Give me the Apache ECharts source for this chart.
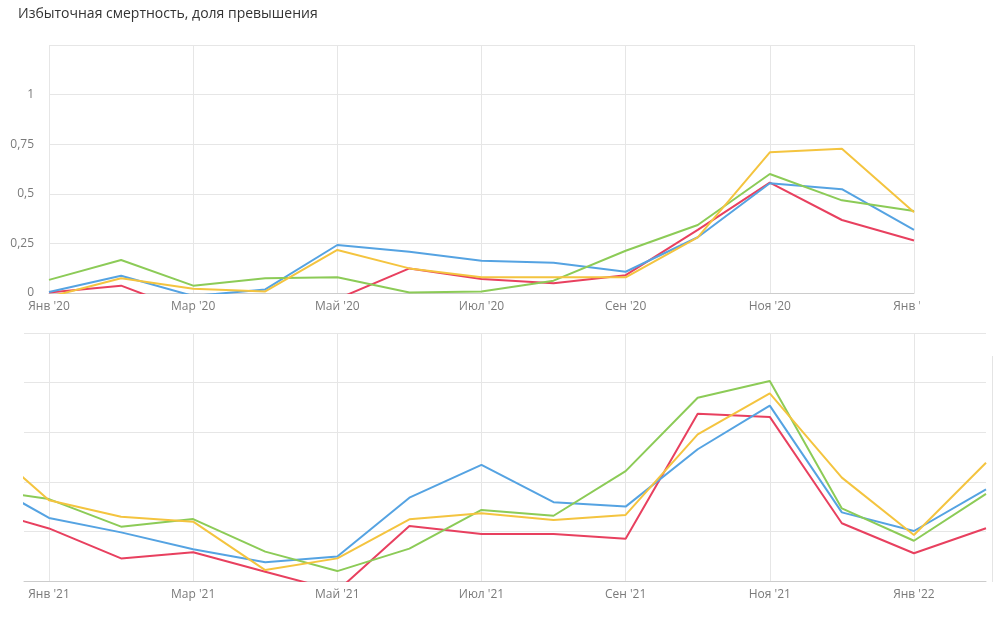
<!DOCTYPE html>
<html>
<head>
<meta charset="utf-8">
<script src="https://cdn.jsdelivr.net/npm/echarts@6/dist/echarts.min.js"></script>
<style>
  body { margin: 0; background: #fff; }
  #top { position: absolute; left: 0; top: 0; width: 920px; height: 320px; overflow: hidden; }
  #bottom { position: absolute; left: 0; top: 320px; width: 996px; height: 304px; }
</style>
</head>
<body>
<div id="top"></div>
<div id="bottom"></div>
<script>
// месяцы 2020 (верхняя панель)
const months20 = ["Янв '20", "Фев '20", "Мар '20", "Апр '20", "Май '20", "Июн '20", "Июл '20",
  "Авг '20", "Сен '20", "Окт '20", "Ноя '20", "Дек '20", "Янв '21"];
const red20 = [0.003, 0.037, -0.10, -0.15, -0.03, 0.124, 0.07, 0.049, 0.09, 0.318, 0.556, 0.368, 0.265];
const blue20 = [0.005, 0.087, -0.015, 0.018, 0.242, 0.208, 0.163, 0.153, 0.107, 0.281, 0.553, 0.523, 0.318];
const green20 = [0.066, 0.166, 0.037, 0.074, 0.079, 0.003, 0.007, 0.062, 0.213, 0.343, 0.60, 0.467, 0.413];
const yellow20 = [-0.02, 0.074, 0.022, 0.008, 0.217, 0.124, 0.079, 0.079, 0.079, 0.28, 0.709, 0.727, 0.407];

// месяцы 2021 (нижняя панель, с декабря 2020)
const months21 = ["Дек '20", "Янв '21", "Фев '21", "Мар '21", "Апр '21", "Май '21", "Июн '21", "Июл '21",
  "Авг '21", "Сен '21", "Окт '21", "Ноя '21", "Дек '21", "Янв '22", "Фев '22"];
const red21 = [0.368, 0.265, 0.114, 0.145, 0.047, -0.05, 0.277, 0.237, 0.237, 0.213, 0.843, 0.827, 0.291, 0.14, 0.266];
const blue21 = [0.523, 0.318, 0.245, 0.16, 0.094, 0.123, 0.42, 0.585, 0.397, 0.375, 0.664, 0.884, 0.346, 0.252, 0.462];
const green21 = [0.467, 0.413, 0.274, 0.312, 0.148, 0.05, 0.163, 0.358, 0.329, 0.554, 0.924, 1.008, 0.366, 0.203, 0.439];
const yellow21 = [0.727, 0.407, 0.324, 0.299, 0.055, 0.114, 0.311, 0.341, 0.307, 0.333, 0.739, 0.946, 0.521, 0.232, 0.596];

const colors = ['#e8405f', '#55a3e2', '#8ccb57', '#f4c43f'];
const gridColor = '#e6e6e6';
const labelColor = '#7a7a7a';

function makeSeries(list, xs) {
  return list.map((vals, i) => ({
    type: 'line',
    data: vals.map((v, j) => xs ? [xs[j], v] : v),
    showSymbol: false,
    clip: true,
    lineStyle: { width: 2, color: colors[i] },
    itemStyle: { color: colors[i] },
    z: 3
  }));
}

const yAxisCommon = {
  type: 'value',
  min: 0,
  max: 1.25,
  interval: 0.25,
  axisLine: { show: false },
  axisTick: { show: false },
  splitLine: { lineStyle: { color: gridColor } }
};

// верхний график
const topChart = echarts.init(document.getElementById('top'));
topChart.setOption({
  animation: false,
  title: {
    text: 'Избыточная смертность, доля превышения',
    left: 18, top: 7, padding: 0,
    textStyle: { fontFamily: 'Open Sans', fontSize: 14, fontWeight: 'normal', color: '#333' }
  },
  grid: { left: 49, top: 45, width: 865, height: 248, outerBoundsMode: 'none', containLabel: false },
  xAxis: {
    type: 'category',
    data: months20,
    boundaryGap: false,
    axisLine: { lineStyle: { color: '#cccccc' } },
    axisTick: { show: false },
    axisLabel: { interval: 1, color: labelColor, fontSize: 12, fontFamily: 'Open Sans', margin: 8 },
    splitLine: { show: true, interval: 1, lineStyle: { color: gridColor } }
  },
  yAxis: Object.assign({}, yAxisCommon, {
    axisLabel: {
      color: labelColor, fontSize: 12, fontFamily: 'Open Sans', margin: 15,
      formatter: v => v > 1 ? '' : String(v).replace('.', ',')
    }
  }),
  series: makeSeries([red20, blue20, green20, yellow20])
});

// нижний график
const xs21 = months21.map((m, i) => i - 1);
const tickVals = [0, 2, 4, 6, 8, 10, 12];
const bottomChart = echarts.init(document.getElementById('bottom'));
bottomChart.setOption({
  animation: false,
  grid: { left: 24, top: 13, width: 962, height: 248, outerBoundsMode: 'none', containLabel: false },
  xAxis: {
    type: 'value',
    min: -0.347,
    max: 13,
    axisLine: { lineStyle: { color: '#cccccc' } },
    axisTick: { show: false, customValues: tickVals },
    axisLabel: {
      customValues: tickVals,
      color: labelColor, fontSize: 12, fontFamily: 'Open Sans', margin: 8,
      formatter: v => months21[Math.round(v) + 1]
    },
    splitLine: { show: true, lineStyle: { color: gridColor } }
  },
  yAxis: Object.assign({}, yAxisCommon, { axisLabel: { show: false } }),
  graphic: [{
    type: 'line', shape: { x1: 992.5, y1: 36, x2: 992.5, y2: 262 },
    style: { stroke: '#e4e4e4', lineWidth: 1 }
  }],
  series: makeSeries([red21, blue21, green21, yellow21], xs21)
});
</script>
</body>
</html>
